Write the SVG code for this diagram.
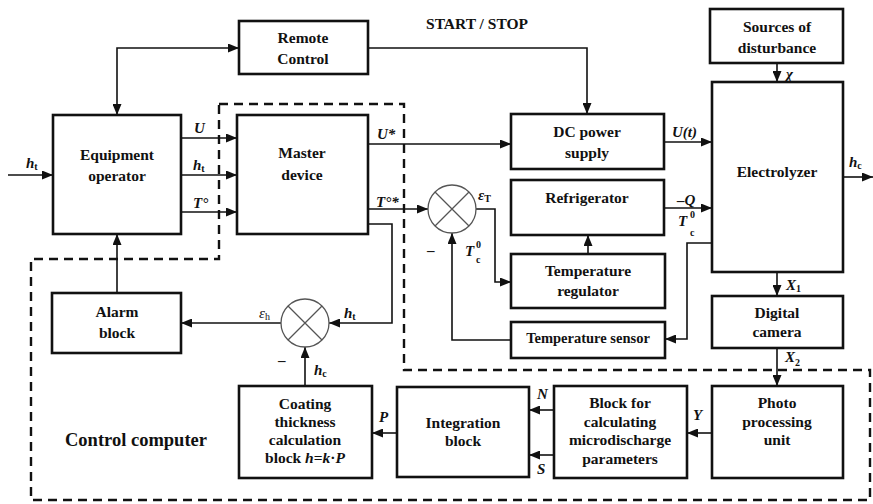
<svg xmlns="http://www.w3.org/2000/svg" width="873" height="504" viewBox="0 0 873 504" font-family="'Liberation Serif', 'DejaVu Serif', serif">
  <style>
    .box { fill: #fff; stroke: #111; stroke-width: 2.6; }
    .t { font-weight: 700; font-size: 15.5px; fill: #111; text-anchor: middle; }
    .lbl { font-weight: 700; font-style: italic; font-size: 15px; fill: #111; }
    .sub { font-size: 10px; font-style: normal; }
    .wire { fill: none; stroke: #111; stroke-width: 1.6; }
    .arr { marker-end: url(#ah); }
    .sum { fill: #fff; stroke: #555; stroke-width: 1.3; }
    .dash { fill: none; stroke: #111; stroke-width: 2.4; stroke-dasharray: 9 6; }
  </style>
  <defs>
    <marker id="ah" markerUnits="userSpaceOnUse" markerWidth="11" markerHeight="9" refX="11" refY="4.5" orient="auto-start-reverse">
      <path d="M0,0 L11,4.5 L0,9 z" fill="#111"/>
    </marker>
  </defs>

  <rect width="873" height="504" fill="#fff"/>

  <!-- control computer boundary -->
  <path class="dash" d="M219,104 H404 V370 H870 V500 H31 V259 H219 Z"/>

  <g id="connectors">
    <path class="wire arr" d="M8,175 H53"/>
    <path class="wire arr" style="marker-start:url(#ah)" d="M117,115 V48 H239"/>
    <path class="wire arr" d="M181,138 H237"/>
    <path class="wire arr" d="M181,175 H237"/>
    <path class="wire arr" d="M181,212 H237"/>
    <path class="wire arr" d="M368,48 H587 V114"/>
    <path class="wire arr" d="M368,144 H511"/>
    <path class="wire arr" d="M368,209 H428"/>
    <path class="wire arr" d="M476,209 H495 V282 H511"/>
    <path class="wire arr" d="M511,340 H452 V233"/>
    <path class="wire arr" d="M588,254 V235"/>
    <path class="wire arr" d="M664,142 H712"/>
    <path class="wire arr" d="M664,208 H712"/>
    <path class="wire arr" d="M712,243 H687 V339 H665"/>
    <path class="wire arr" d="M777,63 V82"/>
    <path class="wire arr" d="M843,177 H873"/>
    <path class="wire arr" d="M777,272 V296"/>
    <path class="wire arr" d="M777,348 V386"/>
    <path class="wire arr" d="M712,433 H687"/>
    <path class="wire arr" d="M554,410 H529"/>
    <path class="wire arr" d="M554,455 H529"/>
    <path class="wire arr" d="M397,433 H372"/>
    <path class="wire arr" d="M305,386 V347"/>
    <path class="wire arr" d="M368,224 H392 V323 H329"/>
    <path class="wire arr" d="M281,323 H181"/>
    <path class="wire arr" d="M117,293 V234"/>
  </g>

  <!-- summing junctions -->
  <g id="sum-temperature">
    <circle class="sum" cx="452" cy="209" r="24"/>
    <path class="sum" d="M435,192 L469,226 M469,192 L435,226"/>
  </g>
  <g id="sum-thickness">
    <circle class="sum" cx="305" cy="323" r="24"/>
    <path class="sum" d="M288,306 L322,340 M322,306 L288,340"/>
  </g>

  <g id="remote-control">
    <rect class="box" x="239" y="21" width="129" height="53"/>
    <text class="t" x="303" y="43">Remote</text>
    <text class="t" x="303" y="64">Control</text>
  </g>
  <g id="equipment-operator">
    <rect class="box" x="53" y="115" width="128" height="119"/>
    <text class="t" x="117" y="160">Equipment</text>
    <text class="t" x="117" y="181">operator</text>
  </g>
  <g id="master-device">
    <rect class="box" x="237" y="115" width="131" height="119"/>
    <text class="t" x="302" y="158">Master</text>
    <text class="t" x="302" y="180">device</text>
  </g>
  <g id="dc-power-supply">
    <rect class="box" x="511" y="114" width="153" height="55"/>
    <text class="t" x="587" y="137">DC power</text>
    <text class="t" x="587" y="158">supply</text>
  </g>
  <g id="refrigerator">
    <rect class="box" x="511" y="180" width="153" height="55"/>
    <text class="t" x="587" y="203">Refrigerator</text>
  </g>
  <g id="temperature-regulator">
    <rect class="box" x="511" y="254" width="154" height="54"/>
    <text class="t" x="588" y="276">Temperature</text>
    <text class="t" x="588" y="296">regulator</text>
  </g>
  <g id="temperature-sensor">
    <rect class="box" x="511" y="322" width="154" height="36"/>
    <text class="t" x="588" y="343" style="font-size:14.5px">Temperature sensor</text>
  </g>
  <g id="sources-of-disturbance">
    <rect class="box" x="710" y="9" width="133" height="54"/>
    <text class="t" x="777" y="32">Sources of</text>
    <text class="t" x="777" y="53">disturbance</text>
  </g>
  <g id="electrolyzer">
    <rect class="box" x="712" y="82" width="131" height="190"/>
    <text class="t" x="777" y="177">Electrolyzer</text>
  </g>
  <g id="digital-camera">
    <rect class="box" x="712" y="296" width="131" height="52"/>
    <text class="t" x="777" y="318">Digital</text>
    <text class="t" x="777" y="337">camera</text>
  </g>
  <g id="photo-processing-unit">
    <rect class="box" x="712" y="386" width="131" height="92"/>
    <text class="t" x="777" y="408">Photo</text>
    <text class="t" x="777" y="427">processing</text>
    <text class="t" x="777" y="445">unit</text>
  </g>
  <g id="microdischarge-block">
    <rect class="box" x="554" y="386" width="133" height="92"/>
    <text class="t" x="620" y="408">Block for</text>
    <text class="t" x="620" y="427">calculating</text>
    <text class="t" x="620" y="445">microdischarge</text>
    <text class="t" x="620" y="464">parameters</text>
  </g>
  <g id="integration-block">
    <rect class="box" x="397" y="387" width="132" height="90"/>
    <text class="t" x="463" y="428">Integration</text>
    <text class="t" x="463" y="446">block</text>
  </g>
  <g id="coating-thickness-block">
    <rect class="box" x="239" y="386" width="133" height="92"/>
    <text class="t" x="305" y="409">Coating</text>
    <text class="t" x="305" y="427">thickness</text>
    <text class="t" x="305" y="445">calculation</text>
    <text class="t" x="305" y="463">block <tspan font-style="italic">h</tspan>=<tspan font-style="italic">k</tspan>·<tspan font-style="italic">P</tspan></text>
  </g>
  <g id="alarm-block">
    <rect class="box" x="52" y="293" width="129" height="60"/>
    <text class="t" x="117" y="317">Alarm</text>
    <text class="t" x="117" y="338">block</text>
  </g>

  <!-- captions -->
  <text class="t" x="477" y="29">START / STOP</text>
  <text class="t" x="136" y="446" style="font-size:18.5px">Control computer</text>

  <!-- signal labels -->
  <g id="labels">
    <text class="lbl" x="26" y="168">h<tspan class="sub" dy="2">t</tspan></text>
    <text class="lbl" x="194" y="133">U</text>
    <text class="lbl" x="193" y="170">h<tspan class="sub" dy="2">t</tspan></text>
    <text class="lbl" x="193" y="208">T°</text>
    <text class="lbl" x="377" y="139">U*</text>
    <text class="lbl" x="376" y="207">T°*</text>
    <text class="lbl" x="478" y="200">ε<tspan class="sub" dy="2">T</tspan></text>
    <text class="lbl" x="427" y="255" style="font-style:normal">–</text>
    <text class="lbl" x="465" y="256">T</text>
    <text class="lbl" x="476" y="248" style="font-size:10px;font-style:normal">0</text>
    <text class="lbl" x="476" y="263" style="font-size:10px;font-style:normal">c</text>
    <text class="lbl" x="672" y="137">U(<tspan>t</tspan>)</text>
    <text class="lbl" x="677" y="205">–Q</text>
    <text class="lbl" x="678" y="226">T</text>
    <text class="lbl" x="690" y="218" style="font-size:10px;font-style:normal">0</text>
    <text class="lbl" x="690" y="236" style="font-size:10px;font-style:normal">c</text>
    <text class="lbl" x="786" y="79">χ</text>
    <text class="lbl" x="849" y="167">h<tspan class="sub" dy="2">c</tspan></text>
    <text class="lbl" x="786" y="290">X<tspan class="sub" dy="2" style="font-style:normal">1</tspan></text>
    <text class="lbl" x="785" y="362">X<tspan class="sub" dy="4" style="font-style:normal">2</tspan></text>
    <text class="lbl" x="693" y="420">Y</text>
    <text class="lbl" x="537" y="399">N</text>
    <text class="lbl" x="537" y="474">S</text>
    <text class="lbl" x="379" y="422">P</text>
    <text class="lbl" x="344" y="318">h<tspan class="sub" dy="2">t</tspan></text>
    <text class="lbl" x="314" y="375">h<tspan class="sub" dy="2">c</tspan></text>
    <text class="lbl" x="278" y="365" style="font-style:normal">–</text>
    <text class="lbl" x="259" y="318" style="font-weight:normal">ε<tspan class="sub" dy="2">h</tspan></text>
  </g>
</svg>
